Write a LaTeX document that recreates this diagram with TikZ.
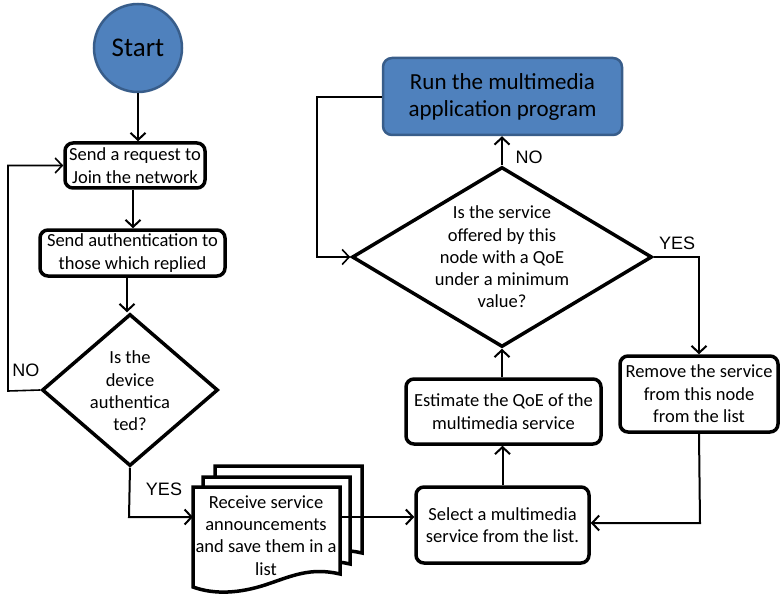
\documentclass[tikz,border=0pt]{standalone}
\usepackage{fontspec}
\setmainfont{Carlito}
\newfontfamily\labelfont{Liberation Sans}
\usetikzlibrary{shapes.geometric,arrows.meta,calc}
\definecolor{startblue}{HTML}{4F81BD}
\definecolor{startedge}{HTML}{385D8A}
\begin{document}
\begin{tikzpicture}[x=1pt,y=-1pt,
  stepbox/.style={draw,line width=3.5pt,rounded corners=8pt,fill=white,align=center,
    inner sep=1pt,font=\fontsize{18.5}{22.5}\selectfont},
  bluebox/.style={draw=startedge,line width=2.5pt,rounded corners=9pt,fill=startblue,align=center,
    font=\fontsize{23}{27}\selectfont},
  decision/.style={draw,diamond,line width=3.5pt,inner sep=0pt,fill=white},
  dtext/.style={align=center,font=\fontsize{18.5}{22.3}\selectfont},
  arr/.style={line width=2pt,-{Straight Barb[length=7pt,width=15pt]}},
  thinarr/.style={line width=1.6pt,-{Straight Barb[length=7pt,width=15pt]}},
  lbl/.style={font=\labelfont\fontsize{18}{20}\selectfont},
  docline/.style={line width=3.5pt,fill=white,line join=miter}]
\useasboundingbox (0,0) rectangle (781,596);

% start and the first two steps
\node[circle,draw=startedge,line width=2.5pt,fill=startblue,minimum size=88pt,inner sep=0pt,
  font=\fontsize{27}{30}\selectfont] (start) at (138,48) {Start};
\node[stepbox,minimum width=140pt,minimum height=45pt] (req) at (135,165.5)
  {Send a request to\\Join the network};
\node[stepbox,minimum width=185pt,minimum height=46pt] (auth) at (132.5,253)
  {Send authentication to\\those which replied};

% authentication check
\node[decision,minimum width=176pt,minimum height=152pt] (isauth) at (130,390) {};
\node[dtext] (isautht) at (130,391) {Is the\\device\\authentica\\ted?};

% stacked documents
\foreach \dx/\dy in {22/-21,10/-10,0/0}{
  \draw[docline,shift={(\dx,\dy)}]
    (193,487) -- (340,487) -- (340,574)
    .. controls (310,567) and (292,576) .. (265,585)
    .. controls (240,593) and (215,595) .. (193,587) -- cycle;
}
\node[align=center,font=\fontsize{18.5}{22.3}\selectfont] (recv) at (266,535.5)
  {Receive service\\announcements\\and save them in a\\list};
\coordinate (docout) at (340,517);

% right-hand column
\node[stepbox,minimum width=173pt,minimum height=76pt] (select) at (502.5,525)
  {Select a multimedia\\service from the list.};
\node[stepbox,minimum width=195pt,minimum height=65pt] (estimate) at (503.5,411.5)
  {Estimate the QoE of the\\multimedia service};
\node[decision,minimum width=300pt,minimum height=180pt] (qoe) at (502,257) {};
\node[dtext] (qoet) at (502,257) {Is the service\\offered by this\\node with a QoE\\under a minimum\\value?};
\node[bluebox,minimum width=239pt,minimum height=77pt] (run) at (502.5,96.5)
  {Run the multimedia\\application program};
\node[stepbox,minimum width=158pt,minimum height=76pt] (remove) at (699,394)
  {Remove the service\\from this node\\from the list};

% connectors, left column
\draw[arr] (start.south) -- (start.south |- req.north);
\draw[arr] ([xshift=-2pt]req.south) -- ([xshift=-2pt]req.south |- auth.north);
\draw[arr] ([xshift=-5.5pt]auth.south) -- ([xshift=-5.5pt]auth.south |- isauth.north);
\coordinate (noturn) at (8,391);
\draw[thinarr] (isauth.west) -- (noturn) |- (req.west);
\node[lbl] (nolbl) at (26,370) {NO};
\coordinate (yesturn) at (129,517);
\draw[arr] (isauth.south) -- (yesturn) -- (193,517);
\node[lbl] (yeslbl) at (164,489) {YES};
\draw[arr] (docout) -- (select.west |- docout);

% connectors, right column
\draw[arr] (select.north) -- (select.north |- estimate.south);
\draw[arr] (estimate.north -| qoe.south) -- (qoe.south);
\draw[arr] (qoe.north) -- (qoe.north |- run.south);
\node[lbl] (nolbl2) at (529,157) {NO};
\coordinate (runturn) at (317,97);
\draw[thinarr] (run.west |- runturn) -- (runturn) |- (qoe.west);
\draw[arr] (qoe.east) -| (remove.north);
\node[lbl] (yeslbl2) at (677,243) {YES};
\coordinate (remturn) at (700,523);
\draw[arr] (remove.south) -- (remturn) -- (select.east |- remturn);
\end{tikzpicture}
\end{document}
